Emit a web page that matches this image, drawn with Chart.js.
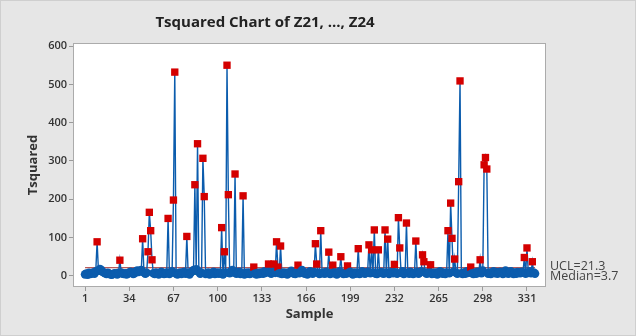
<!DOCTYPE html>
<html>
<head>
<meta charset="utf-8">
<script src="https://cdn.jsdelivr.net/npm/chart.js@4.4.1/dist/chart.umd.min.js"></script>
<style>
  html, body { margin: 0; padding: 0; background: #e6e6e6; }
  #wrap { width: 636px; height: 336px; }
</style>
</head>
<body>
<div id="wrap"><canvas id="myChart" width="636" height="336"></canvas></div>
<script>
// T squared values, sample 1..337
const tsq = [
  4, 6, 3, 8, 5, 7, 9, 6, 12, 89,
  14, 18, 16, 11, 9, 7, 5, 8, 6, 4,
  3, 5, 7, 6, 4, 8, 41, 9, 6, 5,
  7, 4, 6, 9, 11, 8, 5, 7, 12, 14,
  10, 13, 15, 97, 9, 6, 8, 63, 166, 118,
  42, 7, 5, 9, 6, 4, 8, 11, 7, 5,
  6, 9, 150, 5, 8, 12, 198, 532, 6, 4,
  7, 9, 5, 8, 11, 6, 103, 7, 4, 9,
  12, 15, 238, 17, 345, 10, 6, 8, 307, 207,
  5, 7, 9, 4, 6, 8, 11, 5, 7, 9,
  6, 8, 126, 4, 63, 9, 550, 212, 7, 12,
  15, 9, 266, 6, 8, 11, 5, 7, 209, 4,
  8, 6, 9, 5, 7, 10, 23, 6, 4, 8,
  5, 9, 7, 6, 12, 8, 14, 31, 9, 6,
  11, 31, 8, 89, 23, 7, 78, 5, 9, 6,
  8, 4, 7, 10, 13, 9, 6, 5, 8, 28,
  7, 11, 15, 9, 6, 8, 4, 7, 12, 9,
  6, 10, 84, 31, 8, 5, 118, 7, 9, 6,
  11, 8, 62, 5, 7, 28, 9, 6, 4, 8,
  12, 50, 7, 5, 9, 6, 26, 8, 11, 7,
  4, 9, 6, 8, 71, 5, 7, 12, 9, 6,
  8, 11, 81, 7, 68, 9, 120, 6, 5, 68,
  8, 10, 7, 6, 120, 9, 96, 5, 8, 11,
  7, 30, 9, 6, 152, 73, 8, 12, 5, 7,
  138, 9, 6, 11, 8, 5, 7, 91, 10, 6,
  8, 12, 55, 37, 9, 6, 7, 11, 29, 5,
  8, 6, 9, 4, 7, 12, 10, 6, 8, 5,
  9, 118, 7, 190, 98, 11, 44, 8, 6, 246,
  509, 7, 5, 9, 6, 12, 8, 10, 23, 7,
  5, 9, 6, 11, 8, 42, 7, 14, 290, 309,
  279, 6, 9, 5, 8, 12, 7, 10, 6, 9,
  11, 8, 5, 7, 14, 9, 6, 8, 12, 7,
  5, 9, 6, 10, 8, 7, 11, 9, 48, 6,
  73, 8, 12, 7, 37, 9, 6
];
const ucl = 21.3;
const median = 3.7;
const xTicks = [1, 34, 67, 100, 133, 166, 199, 232, 265, 298, 331];
const yTicks = [0, 100, 200, 300, 400, 500, 600];

const points = tsq.map(function (v, i) { return { x: i + 1, y: v }; });
const n = tsq.length;

const blue = "#0b5cad";
const red = "#d40000";

const decor = {
  id: "decor",
  beforeDraw(chart) {
    const c = chart.ctx, a = chart.chartArea;
    c.save();
    c.fillStyle = "#e6e6e6";
    c.fillRect(0, 0, chart.width, chart.height);
    c.fillStyle = "#ffffff";
    c.fillRect(a.left, a.top, a.right - a.left, a.bottom - a.top);
    c.restore();
  },
  afterDraw(chart) {
    const c = chart.ctx, a = chart.chartArea;
    const y = chart.scales.y;
    c.save();
    c.strokeStyle = "#ababab";
    c.lineWidth = 1;
    c.strokeRect(a.left + 0.5, a.top + 0.5, a.right - a.left - 1, a.bottom - a.top - 1);
    c.strokeStyle = "#cfcfcf";
    c.strokeRect(0.5, 0.5, chart.width - 1, chart.height - 1);

    c.fillStyle = "#222";
    c.font = "bold 15px 'Open Sans'";
    c.textAlign = "center";
    c.textBaseline = "middle";
    c.fillText("Tsquared Chart of Z21, ..., Z24", 265, 23);

    c.fillStyle = "#444";
    c.font = "12.5px 'Open Sans'";
    c.textAlign = "left";
    c.fillText("UCL=21.3", a.right + 4, y.getPixelForValue(ucl) - 1);
    c.fillText("Median=3.7", a.right + 4, y.getPixelForValue(median) + 2);
    c.restore();
  }
};

const ctx = document.getElementById("myChart");

new Chart(ctx, {
  type: "line",
  data: {
    datasets: [
      {
        label: "Tsquared",
        data: points,
        order: 0,
        borderColor: blue,
        borderWidth: 1.4,
        tension: 0,
        pointRadius: function (c) { return c.raw && c.raw.y > ucl ? 5.2 : 4.3; },
        pointStyle: function (c) { return c.raw && c.raw.y > ucl ? "rect" : "circle"; },
        pointBackgroundColor: function (c) { return c.raw && c.raw.y > ucl ? red : blue; },
        pointBorderColor: function (c) { return c.raw && c.raw.y > ucl ? red : blue; },
        pointBorderWidth: 0,
      },
      {
        label: "UCL",
        data: [{ x: 1, y: ucl }, { x: n, y: ucl }],
        order: 1,
        borderColor: "#a52a2a",
        borderWidth: 1,
        pointRadius: 0,
      },
      {
        label: "Median",
        data: [{ x: 1, y: median }, { x: n, y: median }],
        order: 2,
        borderColor: "#2e8b57",
        borderWidth: 1,
        pointRadius: 0,
      },
    ],
  },
  options: {
    responsive: false,
    animation: false,
    events: [],
    layout: { padding: { left: 25, right: 90, top: 43, bottom: 14 } },
    plugins: {
      legend: { display: false },
      title: { display: false },
      tooltip: { enabled: false },
    },
    scales: {
      x: {
        type: "linear",
        min: -8,
        max: 345.2,
        afterBuildTicks: function (s) { s.ticks = xTicks.map(function (v) { return { value: v }; }); },
        afterFit: function (s) { s.height = 35; },
        border: { display: false },
        grid: { drawOnChartArea: false, tickLength: 4, color: "#9a9a9a" },
        ticks: {
          autoSkip: false,
          maxRotation: 0,
          padding: 1,
          color: "#333",
          font: { family: "'Open Sans'", size: 11, weight: "600" },
        },
        title: {
          display: true,
          text: "Sample",
          color: "#333",
          padding: { top: 0, bottom: 0 },
          font: { family: "'Open Sans'", size: 13, weight: "bold" },
        },
      },
      y: {
        min: -29,
        max: 608,
        afterBuildTicks: function (s) { s.ticks = yTicks.map(function (v) { return { value: v }; }); },
        afterFit: function (s) { s.width = 48; },
        border: { display: false },
        grid: { drawOnChartArea: false, tickLength: 4, color: "#9a9a9a" },
        ticks: {
          padding: 2,
          color: "#333",
          font: { family: "'Open Sans'", size: 11, weight: "600" },
        },
        title: {
          display: true,
          text: "Tsquared",
          color: "#333",
          padding: { top: 0, bottom: 0 },
          font: { family: "'Open Sans'", size: 13, weight: "bold" },
        },
      },
    },
  },
  plugins: [decor],
});
</script>
</body>
</html>
